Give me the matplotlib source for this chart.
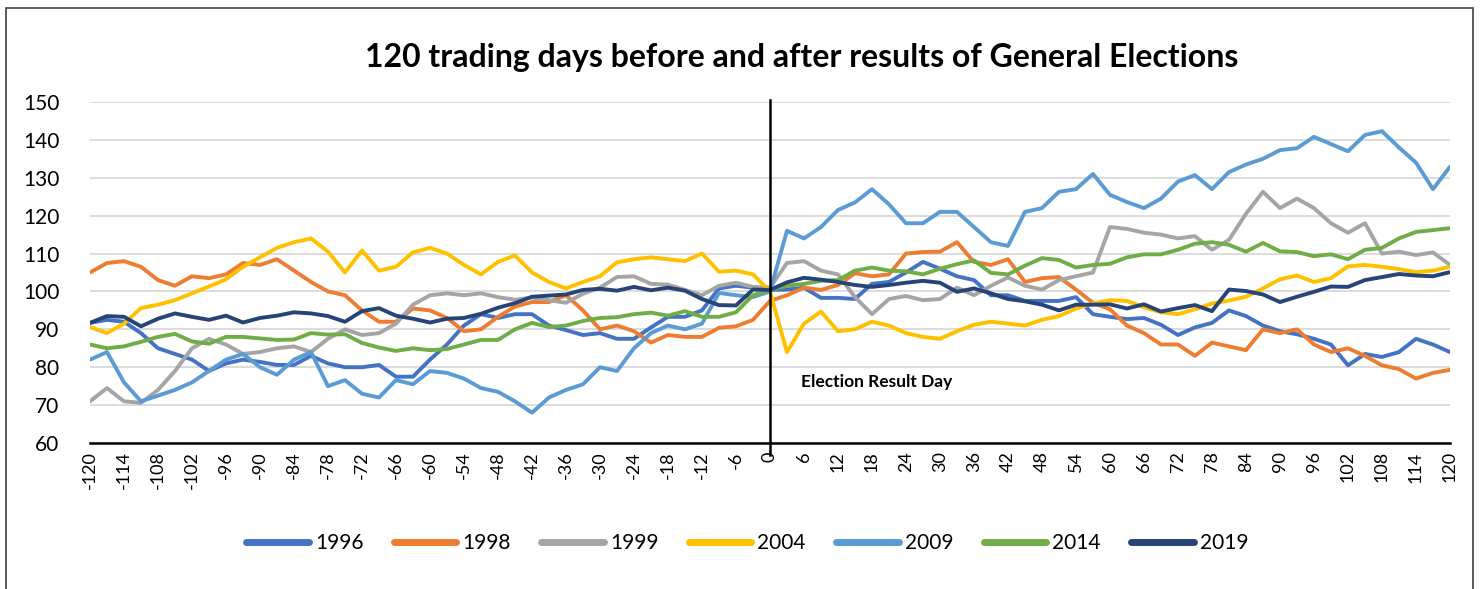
import matplotlib
matplotlib.use("Agg")
import matplotlib.pyplot as plt
import numpy as np

# trading days relative to result day (every 3rd day)
days = np.arange(-120, 121, 3)

s1996 = [91.7, 92.5, 92, 89, 85, 83.5, 82, 79, 81, 82, 81.4, 80.6, 80.6, 83, 81,
         80, 80, 80.6, 77.5, 77.5, 82, 86, 91, 94, 93, 94, 94, 91, 89.8, 88.5, 89,
         87.5, 87.5, 90.5, 93.3, 93.3, 95, 100.8, 101.5, 101, 100.4,
         100.5, 101, 98.3, 98.3, 98, 102, 102.5, 105, 107.8, 106, 104, 103, 99, 99,
         97.5, 97.5, 97.5, 98.5, 94, 93.3, 92.7, 93, 91.2, 88.5, 90.5, 91.7, 95,
         93.5, 91, 89.5, 88.7, 87.5, 86, 80.5, 83.5, 82.7, 84, 87.5, 86, 84]
s1998 = [105, 107.5, 108, 106.5, 103, 101.5, 104, 103.5, 104.5, 107.5, 107, 108.5,
         105.5, 102.5, 100, 99, 95, 92, 92, 95.5, 95, 93, 89.5, 90, 93.3, 96, 97.2,
         97.2, 99, 95, 90, 91, 89.5, 86.5, 88.5, 88, 88, 90.4, 90.8, 92.5, 97.5,
         99, 101, 100.4, 101.7, 104.8, 104, 104.5, 110, 110.4, 110.5, 113, 107.8,
         107, 108.5, 102.5, 103.5, 103.8, 100.5, 97, 95.3, 91, 89, 86, 86, 83,
         86.5, 85.5, 84.5, 90, 89, 90, 86, 84, 85, 83, 80.5, 79.5, 77, 78.5, 79.3]
s1999 = [71, 74.5, 71, 70.6, 74, 79, 85, 87.5, 86, 83.5, 84, 85, 85.5, 84, 87.5,
         90, 88.5, 89, 91.5, 96.5, 99, 99.5, 99, 99.5, 98.5, 97.8, 98.4, 97.7, 97,
         99.4, 101, 103.8, 104, 102, 101.8, 100.4, 99, 101.5, 102.3, 101.2, 101,
         107.5, 108, 105.5, 104.5, 98.5, 94, 98, 98.8, 97.7, 98, 101, 99, 101.5,
         103.7, 101.5, 100.5, 103, 104, 105, 117, 116.5, 115.5, 115, 114, 114.6,
         111, 113.6, 120.5, 126.3, 122, 124.5, 122, 118, 115.5, 118, 110, 110.5,
         109.6, 110.3, 107]
s2004 = [90.6, 89, 91.5, 95.6, 96.5, 97.7, 99.5, 101.3, 103.2, 106.5, 109, 111.5,
         113, 114, 110.5, 105, 110.8, 105.5, 106.5, 110.3, 111.5, 110, 107, 104.5,
         107.8, 109.5, 105, 102.5, 100.8, 102.5, 104, 107.7, 108.5, 109, 108.5,
         108, 110, 105.2, 105.5, 104.5, 100,
         84, 91.5, 94.7, 89.5, 90, 92, 91, 89, 88, 87.5, 89.5, 91.2, 92, 91.5, 91,
         92.5, 93.5, 95.5, 96.8, 97.7, 97.5, 95.8, 94.5, 94, 95.3, 96.8, 97.6,
         98.6, 100.8, 103.2, 104.2, 102.5, 103.5, 106.6, 107, 106.5, 105.9, 105.1,
         105.5, 106.5]
s2009 = [82, 84, 76, 71, 72.5, 74, 76, 79, 82, 83.5, 80, 78, 82, 84, 75, 76.6, 73,
         72, 76.6, 75.5, 79, 78.5, 77, 74.5, 73.5, 71, 68, 72, 74, 75.5, 80, 79,
         85, 89, 91, 90, 91.5, 99.6, 99, 98.5, 100,
         116, 114, 117, 121.5, 123.5, 127, 123, 118, 118, 121, 121, 117, 113, 112,
         121, 122, 126.3, 127, 131, 125.5, 123.6, 122, 124.5, 129, 130.7, 127,
         131.5, 133.5, 135, 137.3, 137.8, 140.8, 138.9, 137, 141.3, 142.3, 138,
         134, 127, 132.9]
s2014 = [86, 85, 85.5, 86.7, 88, 88.8, 86.8, 86.2, 88, 88, 87.6, 87.2, 87.3, 89,
         88.6, 88.7, 86.4, 85.2, 84.3, 85, 84.5, 84.8, 86, 87.2, 87.2, 90, 91.7,
         90.6, 91, 92.2, 93, 93.2, 94, 94.4, 93.6, 94.8, 93.3, 93.3, 94.5, 99,
         100.4, 101.5, 102, 102.8, 103, 105.5, 106.3, 105.5, 105.3, 104.5, 106,
         107.2, 108.2, 104.9, 104.5, 106.8, 108.8, 108.3, 106.3, 107, 107.3, 109,
         109.8, 109.8, 111, 112.6, 113, 112.3, 110.5, 112.8, 110.6, 110.4, 109.3,
         109.8, 108.5, 111, 111.5, 114, 115.7, 116.2, 116.7]
s2019 = [91.7, 93.5, 93.3, 90.8, 92.8, 94.2, 93.3, 92.5, 93.6, 91.8, 93, 93.6,
         94.5, 94.2, 93.5, 92, 94.8, 95.6, 93.6, 92.8, 91.8, 92.8, 93, 94.1, 95.7,
         96.9, 98.6, 98.9, 99.2, 100.4, 100.7, 100.2, 101.2, 100.3, 101, 100.2, 98,
         96.4, 96.3, 100.5, 100.4, 102.4, 103.6, 103.1, 102.5, 101.7, 101.2, 101.7,
         102.3, 102.8, 102.3, 99.9, 100.8, 99.5, 98, 97.4, 96.5, 95, 96.5, 96.5,
         96.6, 95.5, 96.6, 94.7, 95.6, 96.4, 94.8, 100.5, 100.1, 99.2, 97.2, 98.6,
         99.9, 101.3, 101.2, 103, 103.8, 104.6, 104.2, 104, 105.1]

years = ["1996", "1998", "1999", "2004", "2009", "2014", "2019"]
series = [s1996, s1998, s1999, s2004, s2009, s2014, s2019]
colors = ["#4472C4", "#ED7D31", "#A5A5A5", "#FFC000", "#5B9BD5", "#70AD47", "#264478"]

plt.rcParams["font.family"] = ["Lato", "DejaVu Sans"]
plt.rcParams["axes.unicode_minus"] = False

fig = plt.figure(figsize=(14.8, 5.89), dpi=100)
ax = fig.add_axes([0.0608, 0.2479, 0.9189, 0.5789])

for yr, vals, c in zip(years, series, colors):
    ax.plot(days, vals, color=c, lw=2.8, label=yr, solid_capstyle="round")

ax.axvline(0, ymin=-0.035, ymax=1.005, color="black", lw=1.8, clip_on=False, zorder=5)
ax.text(5.5, 76, "Election Result Day", fontsize=12.5, fontweight="bold",
        ha="left", va="center")

ax.set_xlim(-120, 120)
ax.set_ylim(60, 150)
ax.set_yticks(np.arange(60, 151, 10))
ax.set_xticks(np.arange(-120, 121, 6))
ax.tick_params(axis="x", labelrotation=90, labelsize=13, length=0, pad=6)
ax.tick_params(axis="y", labelsize=15, length=0, pad=22)
ax.grid(axis="y", color="#D9D9D9", lw=1.3)
ax.set_axisbelow(True)
for s in ["top", "right", "left"]:
    ax.spines[s].set_visible(False)
ax.spines["bottom"].set_color("black")
ax.spines["bottom"].set_linewidth(1.8)

fig.suptitle("120 trading days before and after results of General Elections",
             x=0.542, y=0.903, va="center", fontsize=23, fontweight="bold")

fig.legend(loc="center", bbox_to_anchor=(0.505, 0.078), ncol=7, frameon=False,
           fontsize=15, handlelength=3.0, handletextpad=0.3, columnspacing=1.45)
for line in fig.legends[0].get_lines():
    line.set_linewidth(5)

fig.patches.append(plt.Rectangle((6 / 1480, -0.01), 1467 / 1480, 1 - 8 / 589 + 0.01,
                                 transform=fig.transFigure, fill=False,
                                 edgecolor="#404040", lw=1.2))

fig.savefig("out.png", dpi=100)
plt.close(fig)
